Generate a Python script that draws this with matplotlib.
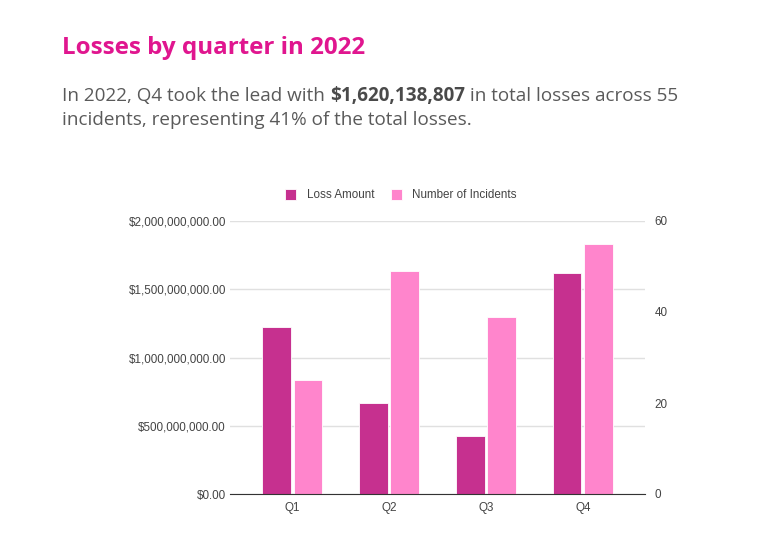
import numpy as np
import matplotlib
matplotlib.use('Agg')
import matplotlib.pyplot as plt
from matplotlib.ticker import FuncFormatter

# data
quarters = ['Q1', 'Q2', 'Q3', 'Q4']
loss_amount = [1_225_000_000, 667_000_000, 427_000_000, 1_620_138_807]
incidents = [25, 49, 39, 55]

loss_color = '#C6308F'
inc_color = '#FF85CC'
grid_color = '#E0E0E0'
label_color = '#444444'

plt.rcParams['font.family'] = ['Liberation Sans', 'DejaVu Sans']

fig = plt.figure(figsize=(7.68, 5.52), dpi=100)
W, H = 768, 552
ax = fig.add_axes([230 / W, 1 - 494 / H, 415 / W, 273 / H])
ax2 = ax.twinx()

x = np.arange(len(quarters))
bw = 0.29
off = 0.16
ax.bar(x - off, loss_amount, width=bw, color=loss_color, edgecolor='white',
       linewidth=0.6, zorder=3, label='Loss Amount')
ax2.bar(x + off, incidents, width=bw, color=inc_color, edgecolor='white',
        linewidth=0.6, zorder=3, label='Number of Incidents')

ax.set_xlim(-0.64, 3.64)
ax.set_ylim(0, 2_000_000_000)
ax.set_yticks(np.arange(0, 2_000_000_001, 500_000_000))
ax.yaxis.set_major_formatter(FuncFormatter(lambda v, p: f'${v:,.2f}'))
ax2.set_ylim(0, 60)
ax2.set_yticks([0, 20, 40, 60])

ax.set_xticks(x)
ax.set_xticklabels(quarters)
ax.grid(axis='y', color=grid_color, linewidth=1, zorder=0)
ax.set_axisbelow(True)
for a in (ax, ax2):
    for s in a.spines.values():
        s.set_visible(False)
    a.tick_params(length=0, labelsize=8.4, labelcolor=label_color)
ax2.spines['bottom'].set_visible(True)
ax2.spines['bottom'].set_color('#333333')
ax2.spines['bottom'].set_zorder(5)
ax.tick_params(axis='y', pad=3)
ax.tick_params(axis='x', pad=6)
ax2.tick_params(axis='y', pad=7)

# legend
h1, l1 = ax.get_legend_handles_labels()
h2, l2 = ax2.get_legend_handles_labels()
fig.legend(h1 + h2, l1 + l2, loc='center', bbox_to_anchor=(401 / W, 1 - 195 / H),
           ncol=2, frameon=False, fontsize=8.4, handlelength=0.95, handleheight=1.1,
           handletextpad=0.9, columnspacing=1.4, labelcolor=label_color)

# title and subtitle
fig.text(62 / W, 1 - 48 / H, 'Losses by quarter in 2022', fontsize=17.4,
         fontweight='bold', color='#E0168F', family='Open Sans', va='center')

sub_kw = dict(fontsize=13.6, family='Open Sans', color='#5A5A5A')
base1 = 1 - 101 / H
t1 = fig.text(62 / W, base1, 'In 2022, Q4 took the lead with ', va='baseline', **sub_kw)
t2 = fig.text(0, base1, '$1,620,138,807', fontweight='bold', va='baseline',
              **dict(sub_kw, color='#4A4A4A'))
t3 = fig.text(0, base1, ' in total losses across 55', va='baseline', **sub_kw)
fig.canvas.draw()
r = fig.canvas.get_renderer()
t2.set_x(t1.get_window_extent(r).x1 / W)
fig.canvas.draw()
t3.set_x(t2.get_window_extent(r).x1 / W)
fig.text(62 / W, 1 - 125 / H, 'incidents, representing 41% of the total losses.',
         va='baseline', **sub_kw)

fig.savefig('out.png', dpi=100, facecolor='white')
